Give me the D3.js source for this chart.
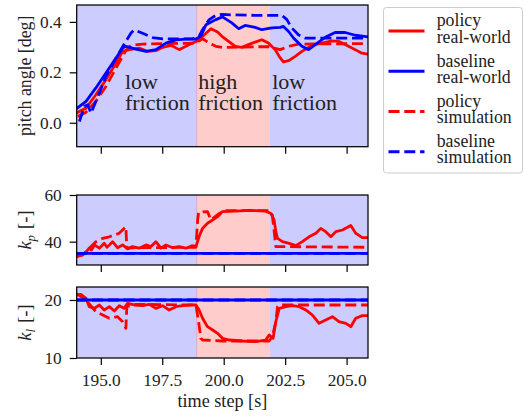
<!DOCTYPE html>
<html>
<head>
<meta charset="utf-8">
<script src="https://cdn.jsdelivr.net/npm/d3@7"></script>
<style>
body{margin:0;background:#fff;}
svg{display:block;}
</style>
</head>
<body>
<div id="chart"></div>
<script>
// friction phases (time in s)
var phaseBounds = [194.0, 198.9, 201.88, 205.9];
var phaseKinds = ["low", "high", "low"];
var phaseLabels = [["low", "friction"], ["high", "friction"], ["low", "friction"]];

var xTicks = [195, 197.5, 200, 202.5, 205];
var pitchTicks = [0, 0.2, 0.4];
var kpTicks = [40, 60];
var klTicks = [10, 20];

var legendNames = [["policy", "real-world"], ["baseline", "real-world"], ["policy", "simulation"], ["baseline", "simulation"]];

// pitch angle [deg]
var pitchPolicyReal = [[193.99,0.038],[194.4,0.058],[194.8,0.111],[195.21,0.171],[195.62,0.237],[195.89,0.283],[196.16,0.29],[196.56,0.296],[196.9,0.283],[197.24,0.286],[197.52,0.299],[197.85,0.307],[198.19,0.29],[198.6,0.31],[198.94,0.325],[199.21,0.349],[199.48,0.373],[199.75,0.36],[199.93,0.343],[200.2,0.323],[200.47,0.303],[200.74,0.299],[201.01,0.31],[201.28,0.32],[201.55,0.329],[201.82,0.316],[202.09,0.29],[202.3,0.257],[202.43,0.241],[202.64,0.246],[202.91,0.263],[203.18,0.283],[203.45,0.299],[203.72,0.31],[203.99,0.316],[204.4,0.325],[204.67,0.323],[204.94,0.31],[205.35,0.29],[205.62,0.276],[205.89,0.272]];
var pitchBaselineReal = [[194.0,0.055],[194.4,0.085],[194.8,0.138],[195.21,0.197],[195.62,0.257],[195.89,0.296],[196.02,0.303],[196.43,0.292],[196.84,0.283],[197.24,0.29],[197.65,0.316],[198.06,0.329],[198.46,0.332],[198.87,0.332],[199.07,0.343],[199.28,0.389],[199.68,0.409],[199.95,0.42],[200.33,0.396],[200.61,0.373],[200.87,0.386],[201.28,0.378],[201.55,0.369],[201.96,0.376],[202.3,0.378],[202.43,0.382],[202.64,0.362],[202.84,0.336],[203.18,0.303],[203.45,0.29],[203.72,0.31],[204.13,0.339],[204.53,0.358],[204.94,0.358],[205.35,0.347],[205.89,0.34]];
var pitchPolicySim = [[194.06,0.025],[194.4,0.042],[194.8,0.085],[195.21,0.144],[195.62,0.217],[196.02,0.286],[196.23,0.307],[196.7,0.312],[198.87,0.316],[199.14,0.333],[199.41,0.316],[199.68,0.303],[199.95,0.299],[201.82,0.302],[202.3,0.29],[202.64,0.303],[203.04,0.312],[205.89,0.314]];
var pitchBaselineSim = [[194.13,0.005],[194.33,0.065],[194.47,0.071],[194.6,0.038],[194.74,0.071],[194.94,0.118],[195.21,0.184],[195.62,0.257],[196.02,0.323],[196.23,0.356],[196.36,0.368],[196.7,0.355],[197.11,0.338],[197.52,0.333],[198.06,0.333],[198.74,0.333],[199.0,0.343],[199.14,0.369],[199.41,0.409],[199.68,0.426],[199.95,0.43],[200.33,0.428],[201.28,0.426],[202.37,0.426],[202.57,0.409],[202.77,0.376],[203.04,0.349],[203.31,0.336],[205.89,0.336]];

// k_p [-]
var kpPolicyReal = [[193.99,33.6],[194.26,34.3],[194.4,35.6],[194.53,37.2],[194.62,36.4],[194.74,38.6],[194.94,37.2],[195.14,39.3],[195.25,37.6],[195.35,38.6],[195.48,40.0],[195.68,37.4],[195.89,38.6],[196.09,36.9],[196.29,37.9],[196.56,37.2],[196.84,38.6],[197.04,37.9],[197.24,40.0],[197.45,37.2],[197.65,38.6],[197.92,37.4],[198.19,37.9],[198.46,37.2],[198.73,38.3],[198.87,37.9],[199.0,42.2],[199.14,45.7],[199.34,47.9],[199.55,49.3],[199.75,50.7],[199.95,52.9],[200.49,53.1],[201.04,53.4],[201.71,53.1],[201.92,52.1],[202.05,49.3],[202.12,44.3],[202.19,41.4],[202.39,40.0],[202.66,39.3],[202.93,38.3],[203.2,40.0],[203.47,42.1],[203.75,43.6],[203.95,45.7],[204.15,44.3],[204.36,42.1],[204.56,44.3],[204.83,45.0],[205.17,46.9],[205.37,43.6],[205.64,41.7],[205.91,41.7]];
var kpPolicySim = [[193.99,33.6],[194.26,34.3],[194.53,37.2],[194.8,40.0],[195.07,41.4],[195.35,42.1],[195.75,43.6],[196.02,46.4],[196.06,37.2],[196.29,37.4],[198.87,37.6],[198.94,49.3],[198.98,52.6],[199.34,52.9],[199.48,49.3],[199.82,52.1],[200.09,53.3],[201.85,53.3],[201.98,51.4],[202.12,37.9],[205.91,37.6]];
var kpBaselineReal = [[194.0,35],[205.9,35]];
var kpBaselineSim = [[194.0,35],[205.9,35]];

// k_l [-]
var klPolicyReal = [[193.99,20.86],[194.19,20.98],[194.4,20.29],[194.53,18.85],[194.74,18.56],[194.94,19.14],[195.14,18.28],[195.35,18.85],[195.55,18.1],[195.75,19.02],[195.95,18.56],[196.09,19.43],[196.36,19.14],[196.7,19.02],[196.97,19.25],[197.24,18.56],[197.51,19.02],[197.78,18.28],[198.06,18.85],[198.33,19.02],[198.66,19.14],[198.87,19.14],[199.0,18.28],[199.14,16.84],[199.34,15.4],[199.55,14.83],[199.75,14.25],[199.95,13.39],[200.22,13.1],[200.77,12.93],[201.31,12.82],[201.71,13.1],[201.85,13.97],[202.01,13.39],[202.12,16.26],[202.26,18.56],[202.53,18.85],[202.8,19.02],[203.07,18.85],[203.34,18.28],[203.61,17.41],[203.88,15.98],[204.15,16.55],[204.42,17.13],[204.69,16.26],[204.97,15.98],[205.17,15.4],[205.37,16.84],[205.64,17.3],[205.91,17.3]];
var klPolicySim = [[193.99,21.15],[194.4,20.0],[194.8,17.99],[195.35,16.84],[195.68,17.13],[195.89,16.26],[196.02,15.11],[196.06,18.85],[196.43,19.25],[198.87,19.14],[198.98,16.26],[199.07,13.39],[199.14,13.1],[199.95,12.93],[201.85,12.93],[201.98,13.68],[202.12,16.26],[202.19,18.85],[202.28,19.14],[205.91,19.14]];
var klBaselineReal = [[194.0,20],[205.9,20]];
var klBaselineSim = [[194.0,20],[205.9,20]];

var RED = "#ff0000", BLUE = "#0000ff";
var DASH = "11,4.8";
var FONT = '"Liberation Serif", "Times New Roman", serif';
var tickFont = 17.3;

var svg = d3.select('#chart').append('svg')
    .attr('width', 525)
    .attr('height', 418);

var x = d3.scaleLinear().domain([194.02, 205.87]).range([76.7, 368]);

var panels = [
    {id: "pitch", top: 5, bottom: 146.7, domain: [-0.095, 0.467], ticks: pitchTicks, fmt: d3.format(".1f"),
     series: [[pitchPolicyReal, RED, false], [pitchPolicySim, RED, true], [pitchBaselineSim, BLUE, true], [pitchBaselineReal, BLUE, false]]},
    {id: "kp", top: 195, bottom: 265, domain: [30, 60], ticks: kpTicks, fmt: d3.format("d"),
     series: [[kpPolicyReal, RED, false], [kpPolicySim, RED, true], [kpBaselineSim, BLUE, true], [kpBaselineReal, BLUE, false]]},
    {id: "kl", top: 287, bottom: 358, domain: [10, 22.24], ticks: klTicks, fmt: d3.format("d"),
     series: [[klPolicyReal, RED, false], [klPolicySim, RED, true], [klBaselineSim, BLUE, true], [klBaselineReal, BLUE, false]]}
];

var defs = svg.append('defs');

panels.forEach(function(p, pi){
    var y = d3.scaleLinear().domain(p.domain).range([p.bottom, p.top]);
    p.y = y;
    var g = svg.append('g');

    defs.append('clipPath').attr('id', 'clip-' + p.id)
        .append('rect')
        .attr('x', x.range()[0]).attr('y', p.top)
        .attr('width', x.range()[1] - x.range()[0])
        .attr('height', p.bottom - p.top);

    // friction phase shading
    phaseKinds.forEach(function(k, i){
        g.append('rect')
            .attr('x', x(phaseBounds[i]))
            .attr('y', p.top)
            .attr('width', x(phaseBounds[i + 1]) - x(phaseBounds[i]))
            .attr('height', p.bottom - p.top)
            .attr('fill', k == "high" ? "#ffcccc" : "#ccccff")
            .attr('clip-path', 'url(#clip-' + p.id + ')');
    });
    g.append('line')
        .attr('x1', x(phaseBounds[1])).attr('x2', x(phaseBounds[1]))
        .attr('y1', p.top).attr('y2', p.bottom)
        .attr('stroke', '#dba6d6')
        .attr('stroke-width', 1);

    var line = d3.line()
        .x(function(d){ return x(d[0]); })
        .y(function(d){ return y(d[1]); });

    var lines = g.append('g').attr('clip-path', 'url(#clip-' + p.id + ')');
    p.series.forEach(function(s){
        lines.append('path')
            .datum(s[0])
            .attr('d', line)
            .attr('fill', 'none')
            .attr('stroke', s[1])
            .attr('stroke-width', 2.8)
            .attr('stroke-linejoin', 'round')
            .attr('stroke-dasharray', s[2] ? DASH : null);
    });

    // frame
    g.append('rect')
        .attr('x', x.range()[0]).attr('y', p.top)
        .attr('width', x.range()[1] - x.range()[0])
        .attr('height', p.bottom - p.top)
        .attr('fill', 'none')
        .attr('stroke', '#000')
        .attr('stroke-width', 1.25);

    var yAxis = g.append('g')
        .attr('transform', 'translate(' + x.range()[0] + ',0)')
        .call(d3.axisLeft(y).tickValues(p.ticks).tickFormat(p.fmt).tickSize(7).tickPadding(8));
    var xAxis = g.append('g')
        .attr('transform', 'translate(0,' + p.bottom + ')')
        .call(d3.axisBottom(x).tickValues(xTicks).tickSize(7)
            .tickFormat(pi == panels.length - 1 ? d3.format(".1f") : ""));

    [yAxis, xAxis].forEach(function(a){
        a.select('.domain').remove();
        a.selectAll('.tick line').attr('stroke', '#000').attr('stroke-width', 1.2);
        a.selectAll('.tick text').attr('fill', '#222').style('font-size', tickFont + 'px');
    });
    xAxis.selectAll('.tick text').attr('y', 28).attr('dy', 0);
});

// friction annotations in the top panel
var topPanel = panels[0];
var labelTimes = [195.98, 198.96, 201.97];
phaseLabels.forEach(function(lbl, i){
    var t = svg.append('text')
        .attr('x', x(labelTimes[i]))
        .attr('y', topPanel.y(0.134))
        .attr('fill', '#222')
        .style('font-size', '22px');
    t.append('tspan').text(lbl[0]);
    t.append('tspan').attr('x', x(labelTimes[i])).attr('dy', 20.7).text(lbl[1]);
});

// axis labels
svg.append('text')
    .attr('x', (x.range()[0] + x.range()[1]) / 2)
    .attr('y', 406.5)
    .attr('text-anchor', 'middle')
    .attr('fill', '#222')
    .style('font-size', '18.2px')
    .text('time step [s]');

svg.append('text')
    .attr('transform', 'translate(31,' + ((topPanel.top + topPanel.bottom) / 2) + ') rotate(-90)')
    .attr('text-anchor', 'middle')
    .attr('fill', '#222')
    .style('font-size', '17.8px')
    .text('pitch angle [deg]');

[["p", panels[1]], ["l", panels[2]]].forEach(function(d){
    var p = d[1];
    var t = svg.append('text')
        .attr('transform', 'translate(31,' + ((p.top + p.bottom) / 2) + ') rotate(-90)')
        .attr('text-anchor', 'middle')
        .attr('fill', '#222')
        .style('font-size', '18.5px');
    t.append('tspan').style('font-style', 'italic').text('k');
    t.append('tspan').style('font-style', 'italic').style('font-size', '13px').attr('dy', 4).text(d[0]);
    t.append('tspan').attr('dy', -4).attr('dx', 6).text('[-]');
});

// legend
var legend = svg.append('g');
legend.append('rect')
    .attr('x', 383.5).attr('y', 7.5)
    .attr('width', 139).attr('height', 165.5)
    .attr('rx', 3)
    .attr('fill', '#fff')
    .attr('stroke', '#cccccc')
    .attr('stroke-width', 1);

var legendStyles = [[RED, false], [BLUE, false], [RED, true], [BLUE, true]];
legendNames.forEach(function(n, i){
    var ly = 31 + i * 40.25;
    legend.append('line')
        .attr('x1', 388.5).attr('x2', 424.5)
        .attr('y1', ly).attr('y2', ly)
        .attr('stroke', legendStyles[i][0])
        .attr('stroke-width', 2.8)
        .attr('stroke-dasharray', legendStyles[i][1] ? DASH : null);
    var t = legend.append('text')
        .attr('x', 436.7)
        .attr('y', ly - 4.6)
        .attr('fill', '#222')
        .style('font-size', '17.8px');
    t.append('tspan').text(n[0]);
    t.append('tspan').attr('x', 436.7).attr('dy', 16.2).text(n[1]);
});

svg.selectAll('text').style('font-family', FONT);
svg.selectAll('g').attr('font-family', null);
</script>
</body>
</html>
